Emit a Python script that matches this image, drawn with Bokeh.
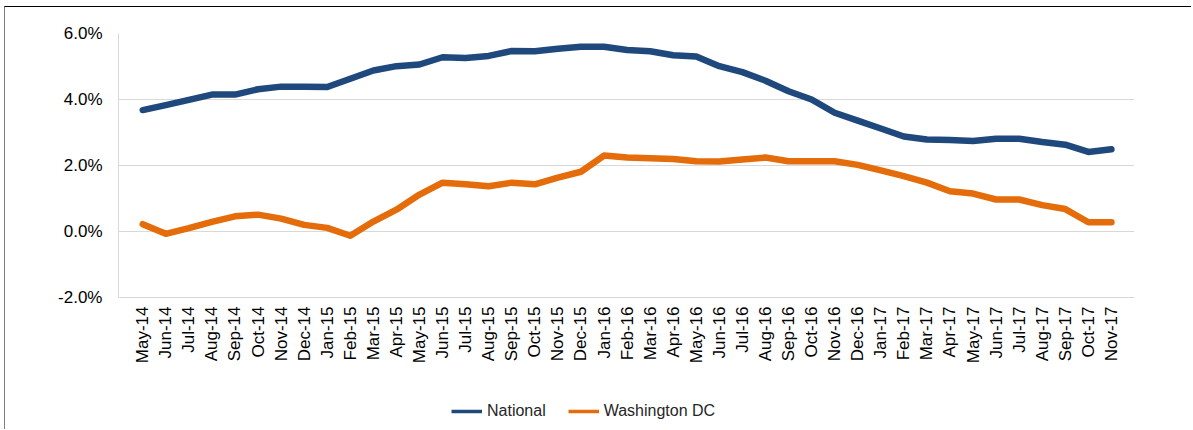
from math import pi
from bokeh.plotting import figure
from bokeh.layouts import column
from bokeh.models import (Range1d, FixedTicker, PrintfTickFormatter, Legend, LegendItem,
                          ColumnDataSource)
from bokeh.embed import file_html
from bokeh.resources import INLINE

months = ["May-14", "Jun-14", "Jul-14", "Aug-14", "Sep-14", "Oct-14", "Nov-14", "Dec-14",
          "Jan-15", "Feb-15", "Mar-15", "Apr-15", "May-15", "Jun-15", "Jul-15", "Aug-15",
          "Sep-15", "Oct-15", "Nov-15", "Dec-15", "Jan-16", "Feb-16", "Mar-16", "Apr-16",
          "May-16", "Jun-16", "Jul-16", "Aug-16", "Sep-16", "Oct-16", "Nov-16", "Dec-16",
          "Jan-17", "Feb-17", "Mar-17", "Apr-17", "May-17", "Jun-17", "Jul-17", "Aug-17",
          "Sep-17", "Oct-17", "Nov-17"]

national = [3.68, 3.83, 3.99, 4.15, 4.15, 4.31, 4.39, 4.39, 4.38, 4.63, 4.88, 5.01,
            5.06, 5.28, 5.26, 5.32, 5.47, 5.46, 5.54, 5.60, 5.60, 5.50, 5.46, 5.34,
            5.30, 5.01, 4.83, 4.57, 4.25, 4.00, 3.60, 3.36, 3.12, 2.88, 2.79, 2.77,
            2.74, 2.81, 2.81, 2.71, 2.63, 2.41, 2.49]

washington_dc = [0.22, -0.07, 0.10, 0.29, 0.46, 0.51, 0.39, 0.20, 0.11, -0.13, 0.30, 0.66,
                 1.12, 1.48, 1.43, 1.37, 1.48, 1.43, 1.63, 1.81, 2.30, 2.24, 2.22, 2.20,
                 2.13, 2.12, 2.18, 2.24, 2.13, 2.13, 2.13, 2.02, 1.85, 1.68, 1.48, 1.22,
                 1.15, 0.97, 0.97, 0.80, 0.68, 0.28, 0.28]

y_ticks = [-2, 0, 2, 4, 6]

BLUE = "#1F497D"
ORANGE = "#E46C0A"
FONT = "Liberation Sans"

idx = list(range(len(months)))
src = ColumnDataSource(dict(x=idx, national=national, dc=washington_dc))

p = figure(width=1186, height=375, output_backend="svg", toolbar_location=None,
           x_range=Range1d(-1.05, 43.0), y_range=Range1d(-2, 6),
           min_border_left=113, min_border_right=57, min_border_top=26, min_border_bottom=85,
           background_fill_color="white", border_fill_color="white")
p.outline_line_color = None

p.line("x", "national", source=src, line_color=BLUE, line_width=6.5,
       line_join="round", line_cap="round")
p.line("x", "dc", source=src, line_color=ORANGE, line_width=6.5,
       line_join="round", line_cap="round")

# axes
xa = p.xaxis[0]
xa.ticker = FixedTicker(ticks=idx)
xa.major_label_overrides = {i: m for i, m in enumerate(months)}
xa.major_label_orientation = pi / 2
xa.major_label_text_font = FONT
xa.major_label_text_font_size = "17px"
xa.major_label_text_color = "#000000"
xa.major_tick_line_color = None
xa.minor_tick_line_color = None
xa.major_tick_out = 0
xa.major_tick_in = 0
xa.major_label_standoff = 9
xa.axis_line_color = "#D9D9D9"

ya = p.yaxis[0]
ya.ticker = FixedTicker(ticks=y_ticks)
ya.formatter = PrintfTickFormatter(format="%.1f%%")
ya.major_label_text_font = FONT
ya.major_label_text_font_size = "17px"
ya.major_label_text_color = "#000000"
ya.major_tick_line_color = None
ya.minor_tick_line_color = None
ya.major_tick_out = 0
ya.major_tick_in = 0
ya.major_label_standoff = 16
ya.axis_line_color = "#D9D9D9"

p.xgrid.grid_line_color = None
p.ygrid.grid_line_color = "#D9D9D9"
p.ygrid.grid_line_width = 1

# legend strip (separate small figure so the legend is never clipped)
lg = figure(width=1186, height=47, output_backend="svg", toolbar_location=None,
            x_range=Range1d(0, 1), y_range=Range1d(0, 1),
            x_axis_type=None, y_axis_type=None,
            min_border_left=0, min_border_right=0, min_border_top=0, min_border_bottom=0,
            background_fill_color="white", border_fill_color="white")
lg.outline_line_color = None
lg.xgrid.visible = False
lg.ygrid.visible = False
# proxy renderers, placed outside the visible range; only their legend samples show
ln = lg.line([-10, -9], [-10, -10], line_color=BLUE, line_width=3.5)
lo = lg.line([-10, -9], [-10, -10], line_color=ORANGE, line_width=3.5)

legend = Legend(items=[LegendItem(label="National", renderers=[ln]),
                       LegendItem(label="Washington DC", renderers=[lo])],
                orientation="horizontal", location=(333, 8),
                glyph_width=31, glyph_height=20, label_standoff=5, spacing=22,
                padding=0, margin=0, border_line_color=None, background_fill_alpha=0,
                label_text_font=FONT, label_text_font_size="16px",
                label_text_color="#262626")
lg.add_layout(legend, "center")

layout = column(p, lg, spacing=0)
layout.styles = {"margin-left": "4px", "margin-top": "6px",
                 "border-top": "1px solid #000000", "border-left": "1px solid #808080"}

open("out.html", "w").write(file_html(layout, INLINE))
